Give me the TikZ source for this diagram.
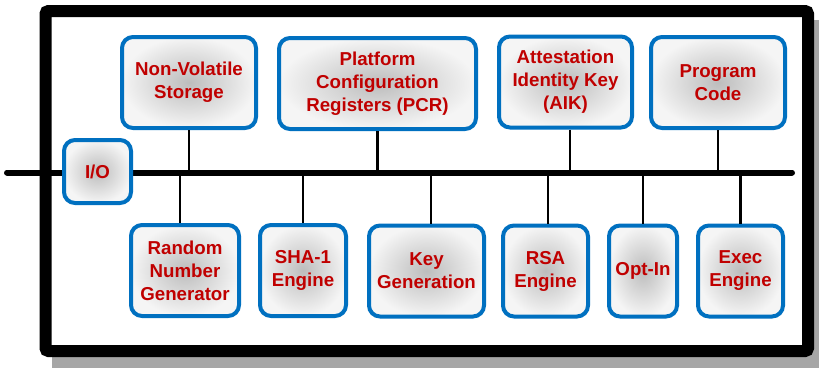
\documentclass[tikz,border=0pt]{standalone}
\usepackage{fontspec}
\setmainfont{Liberation Sans}
\definecolor{tpmblue}{RGB}{0,112,192}
\definecolor{tpmred}{RGB}{192,0,0}
\definecolor{shadowgray}{RGB}{166,166,166}
\tikzset{
  unit/.style={draw=tpmblue, line width=4pt, rounded corners=11pt,
    inner color=black!26, outer color=black!4, align=center,
    text=tpmred, font=\fontsize{18.7}{23}\selectfont\bfseries,
    inner sep=0pt, minimum height=91pt},
  wire/.style={line width=2.5pt},
}

\begin{document}
\begin{tikzpicture}[x=1pt,y=-1pt]
  \useasboundingbox (0,0) rectangle (819,368);

  \fill[shadowgray] (52,20) rectangle (819,368);
  \draw[line width=12pt, fill=white, rounded corners=3pt] (45.5,11) rectangle (808,351);

  \coordinate (busL) at (7,172.5);
  \coordinate (busR) at (792,172.5);
  \draw[line width=6pt, line cap=round] (busL) -- (busR);

  \node[unit, minimum width=134pt] (nvs) at (189,82.5) {Non-Volatile\\Storage};
  \node[unit, minimum width=197pt] (pcr) at (377.5,83.5) {Platform\\Configuration\\Registers (PCR)};
  \node[unit, minimum width=133pt] (aik) at (565.5,82) {Attestation\\Identity Key\\(AIK)};
  \node[unit, minimum width=134pt] (prog) at (718,82.5) {Program\\Code};

  \node[unit, minimum width=67pt, minimum height=63pt] (io) at (97.5,171.5) {I/O};

  \node[unit, minimum width=108pt] (rng) at (185,270.5) {Random\\Number\\Generator};
  \node[unit, minimum width=86pt] (sha) at (303,270.5) {SHA-1\\Engine};
  \node[unit, minimum width=115pt] (keygen) at (426.5,271) {Key\\Generation};
  \node[unit, minimum width=85pt] (rsa) at (545.5,271) {RSA\\Engine};
  \node[unit, minimum width=68pt] (optin) at (643,271) {Opt-In};
  \node[unit, minimum width=85pt] (exec) at (740.5,271) {Exec\\Engine};

  \draw[wire] (nvs.south) -- (nvs.south |- busL);
  \draw[wire] (pcr.south) -- (pcr.south |- busL);
  \draw[wire] ([xshift=4.5pt]aik.south) -- ([xshift=4.5pt]aik.south |- busL);
  \draw[wire] (prog.south) -- (prog.south |- busL);

  \draw[wire] ([xshift=-5pt]rng.north) -- ([xshift=-5pt]rng.north |- busL);
  \draw[wire] (sha.north) -- (sha.north |- busL);
  \draw[wire] ([xshift=4.5pt]keygen.north) -- ([xshift=4.5pt]keygen.north |- busL);
  \draw[wire] ([xshift=2.5pt]rsa.north) -- ([xshift=2.5pt]rsa.north |- busL);
  \draw[wire] (optin.north) -- (optin.north |- busL);
  \draw[wire] (exec.north) -- (exec.north |- busL);

\end{tikzpicture}
\end{document}
